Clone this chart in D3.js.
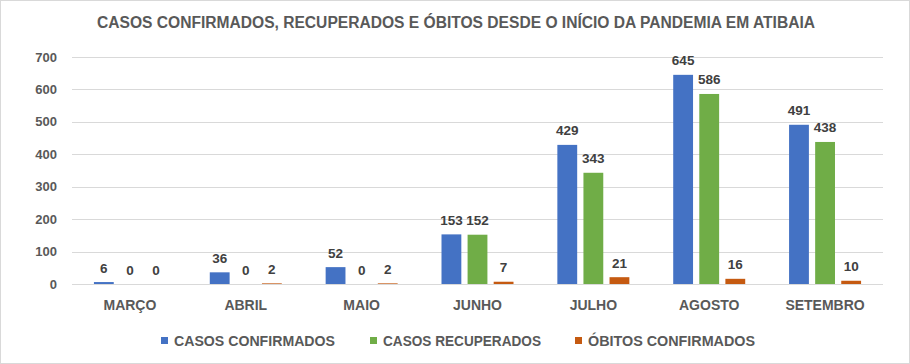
<!DOCTYPE html>
<html><head><meta charset="utf-8">
<script src="https://cdn.jsdelivr.net/npm/d3@7"></script>
<style>
html,body{margin:0;padding:0;background:#fff;}
svg{display:block;font-family:"Liberation Sans",Arial,sans-serif;}
</style></head><body>
<svg id="c" width="910" height="364"></svg>
<script>
const categories = ["MARÇO","ABRIL","MAIO","JUNHO","JULHO","AGOSTO","SETEMBRO"];
const seriesNames = ["CASOS CONFIRMADOS","CASOS RECUPERADOS","ÓBITOS CONFIRMADOS"];
const confirmados = [6,36,52,153,429,645,491];
const recuperados = [0,0,0,152,343,586,438];
const obitos = [0,2,2,7,21,16,10];
const yTicks = [0,100,200,300,400,500,600,700];
const colors = ["#4472C4","#70AD47","#C55A11"];
const title = "CASOS CONFIRMADOS, RECUPERADOS E ÓBITOS DESDE O INÍCIO DA PANDEMIA EM ATIBAIA";

const series = [confirmados, recuperados, obitos];
const svg = d3.select("#c");
svg.append("rect").attr("x",0.5).attr("y",0.5).attr("width",909).attr("height",363)
  .attr("fill","#fff").attr("stroke","#d9d9d9");

const y = d3.scaleLinear().domain([0,700]).range([284,57]);
const x = d3.scaleBand().domain(categories).range([72,883]).padding(0);
const inner = d3.scaleBand().domain(d3.range(3)).range([-36,36]).paddingInner(0.24).paddingOuter(0);

// title
svg.append("text").attr("x",456).attr("y",28).attr("text-anchor","middle")
  .attr("font-size",16).attr("font-weight","bold").attr("fill","#595959")
  .attr("textLength",718).attr("lengthAdjust","spacingAndGlyphs").text(title);

// grid
svg.append("g").selectAll("line").data(yTicks).join("line")
  .attr("x1",72).attr("x2",883).attr("y1",d=>Math.round(y(d))+0.5).attr("y2",d=>Math.round(y(d))+0.5)
  .attr("stroke","#d9d9d9").attr("stroke-width",1);

// y labels
svg.append("g").selectAll("text").data(yTicks).join("text")
  .attr("x",57).attr("y",d=>y(d)+4.5).attr("text-anchor","end")
  .attr("font-size",13).attr("font-weight","bold").attr("fill","#595959").text(d=>d);

// bars
categories.forEach((c,i)=>{
  const cx = x(c)+x.bandwidth()/2;
  series.forEach((s,j)=>{
    const v = s[i];
    const bx = cx+inner(j);
    svg.append("rect").attr("x",bx).attr("y",y(v)).attr("width",inner.bandwidth())
      .attr("height",y(0)-y(v)).attr("fill",colors[j]);
    svg.append("text").attr("x",bx+inner.bandwidth()/2).attr("y",y(v)-9.5)
      .attr("text-anchor","middle").attr("font-size",13.5).attr("font-weight","bold")
      .attr("fill","#404040").text(v);
  });
  svg.append("text").attr("x",cx).attr("y",310).attr("text-anchor","middle")
    .attr("font-size",14).attr("font-weight","bold").attr("fill","#595959").text(c);
});

// legend
const legX = [161,370,575];
const legW = [161,158,167];
seriesNames.forEach((n,j)=>{
  svg.append("rect").attr("x",legX[j]).attr("y",337).attr("width",7).attr("height",7).attr("fill",colors[j]);
  svg.append("text").attr("x",legX[j]+13).attr("y",345.5).attr("font-size",14).attr("font-weight","bold")
    .attr("textLength",legW[j]).attr("lengthAdjust","spacingAndGlyphs")
    .attr("fill","#595959").text(n);
});
</script>
</body></html>
